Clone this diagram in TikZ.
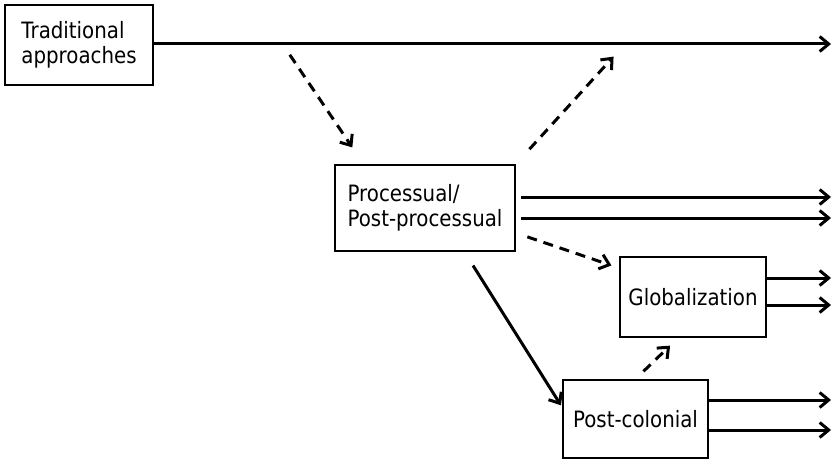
\documentclass[tikz,border=0pt]{standalone}
\usepackage{fontspec}
\setmainfont{DejaVu Sans}[FakeStretch=0.88]
\usepackage{tikz}
\usetikzlibrary{positioning, calc, arrows.meta}

\begin{document}
\begin{tikzpicture}[x=1pt, y=-1pt,
                        phasenode/.style={rectangle, draw=black, fill=white, line width=2pt, align=left, inner sep=0pt,
                                          font=\fontsize{22.5}{25.5}\selectfont},
                        flow/.style={line width=3pt, -{Straight Barb[length=9pt, width=15pt]}},
                        influence/.style={flow, dash pattern=on 10pt off 7pt},
                        ]
        \useasboundingbox (0,0) rectangle (832,460);

        %Nodes
        \node[phasenode, minimum width=148pt, minimum height=80pt]   (Trad)  at (79,45)    {Traditional\\approaches};
        \node[phasenode, minimum width=180pt, minimum height=86pt]   (Proc)  at (425,208)  {Processual/\\Post-processual};
        \node[phasenode, minimum width=146pt, minimum height=80pt]   (Glob)  at (693,297)  {Globalization};
        \node[phasenode, minimum width=145pt, minimum height=78pt]   (Post)  at (635.5,419) {Post-colonial};

        \coordinate (rim)    at (831,0);
        \coordinate (split1) at (282.5,44);
        \coordinate (split2) at (625,44);

        %Lines
        \draw[flow] (Trad.east |- 0,44)  to  (rim |- 0,44);

        \draw[flow] ([shift={(5pt,11pt)}]Proc.east)  to  (rim |- 0,197);
        \draw[flow] ([shift={(5pt,-10pt)}]Proc.east) to  (rim |- 0,218);

        \draw[flow] ([yshift=19pt]Glob.east)  to  (rim |- 0,278);
        \draw[flow] ([yshift=-8pt]Glob.east)  to  (rim |- 0,305);

        \draw[flow] ([yshift=19pt]Post.east)  to  (rim |- 0,400);
        \draw[flow] ([yshift=-11pt]Post.east) to  (rim |- 0,430);

        \draw[flow, shorten <=16pt, shorten >=2pt] ([xshift=-51.5pt]Proc.south -| Proc.south east) to ([yshift=12pt]Post.west);

        \draw[influence, shorten <=13pt, shorten >=20pt] (split1)  to  ([xshift=29.5pt]Proc.north west);
        \draw[influence, shorten <=20pt, shorten >=17pt] (Proc.north east)  to  (split2);
        \draw[influence, shorten <=12pt, shorten >=8pt] ([yshift=-25pt]Proc.east)  to  ([yshift=29pt]Glob.west);
        \draw[influence, shorten <=11pt, shorten >=11pt] (Post.north)  to  ([xshift=-15pt]Glob.south);
    \end{tikzpicture}
\end{document}
